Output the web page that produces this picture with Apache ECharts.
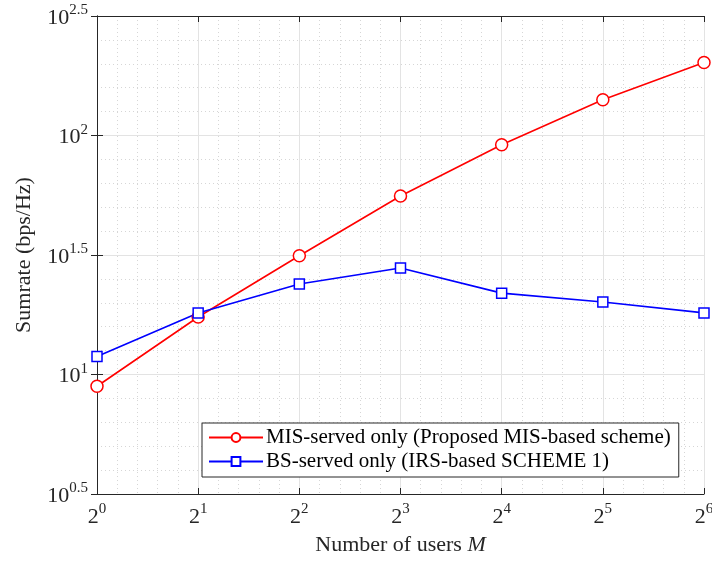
<!DOCTYPE html>
<html>
<head>
<meta charset="utf-8">
<script src="https://cdn.jsdelivr.net/npm/echarts@6/dist/echarts.min.js"></script>
<style>
  html, body { margin: 0; padding: 0; background: #fff; }
  #main { width: 712px; height: 561px; }
</style>
</head>
<body>
<div id="main"></div>
<script>
// number of users M (x axis, log2 scale)
var users = [1, 2, 4, 8, 16, 32, 64];
// sumrate in bps/Hz (y axis, log10 scale)
var misServed = [8.93, 17.4, 31.4, 55.8, 91.4, 141, 202];
var bsServed = [11.9, 18.1, 23.9, 27.9, 21.9, 20.1, 18.1];
var seriesNames = ['MIS-served only (Proposed MIS-based scheme)', 'BS-served only (IRS-based SCHEME 1)'];

var FONT = 'Liberation Serif';
var AXIS_COLOR = '#262626';

function pts(vals) {
    return users.map(function (m, i) {
        return [Math.log2(m), Math.log10(vals[i])];
    });
}

function supLabel(base) {
    return function (v) {
        var e = Math.round(v * 10) / 10;
        return '{b|' + base + '}{s|' + e + '}';
    };
}

var labelRich = {
    b: { fontFamily: FONT, fontSize: 22, color: '#262626', lineHeight: 26, verticalAlign: 'bottom' },
    s: { fontFamily: FONT, fontSize: 15, color: '#262626', lineHeight: 15, verticalAlign: 'top' }
};

var myChart = echarts.init(document.getElementById('main'), null, { renderer: 'canvas' });

var gridLine = { show: true, lineStyle: { color: '#e3e3e3', width: 1 } };
var minorLine = { show: true, lineStyle: { color: '#d6d6d6', width: 1, type: [1, 3] } };

var option = {
    backgroundColor: '#fff',
    animation: false,
    grid: { left: 97, right: 8, top: 16, bottom: 67, outerBoundsMode: 'none' },
    xAxis: [{
        type: 'value',
        min: 0, max: 6, interval: 1,
        name: '{n|Number of users }{i|M}',
        nameLocation: 'middle',
        nameGap: 40,
        nameTextStyle: {
            rich: {
                n: { fontFamily: FONT, fontSize: 22, color: '#262626' },
                i: { fontFamily: FONT, fontSize: 22, color: '#262626', fontStyle: 'italic' }
            }
        },
        axisLine: { show: true, lineStyle: { color: AXIS_COLOR, width: 1 } },
        axisTick: { show: true, inside: true, length: 6, lineStyle: { color: AXIS_COLOR } },
        axisLabel: { formatter: supLabel('2'), rich: labelRich, margin: 8 },
        splitLine: gridLine,
        minorTick: { show: false, splitNumber: 5 },
        minorSplitLine: minorLine
    }, {
        type: 'value',
        position: 'top',
        min: 0, max: 6, interval: 1,
        axisLine: { show: true, lineStyle: { color: AXIS_COLOR, width: 1 } },
        axisTick: { show: true, inside: true, length: 6, lineStyle: { color: AXIS_COLOR } },
        axisLabel: { show: false },
        splitLine: { show: false }
    }],
    yAxis: [{
        type: 'value',
        min: 0.5, max: 2.5, interval: 0.5,
        name: 'Sumrate (bps/Hz)',
        nameLocation: 'middle',
        nameGap: 62,
        nameTextStyle: { fontFamily: FONT, fontSize: 22, color: '#262626' },
        axisLine: { show: true, lineStyle: { color: AXIS_COLOR, width: 1 } },
        axisTick: { show: true, inside: true, length: 6, lineStyle: { color: AXIS_COLOR } },
        axisLabel: { formatter: supLabel('10'), rich: labelRich, margin: 9 },
        splitLine: gridLine,
        minorTick: { show: false, splitNumber: 5 },
        minorSplitLine: minorLine
    }, {
        type: 'value',
        position: 'right',
        min: 0.5, max: 2.5, interval: 0.5,
        axisLine: { show: true, lineStyle: { color: AXIS_COLOR, width: 1 } },
        axisTick: { show: true, inside: true, length: 6, lineStyle: { color: AXIS_COLOR } },
        axisLabel: { show: false },
        splitLine: { show: false }
    }],
    legend: {
        orient: 'vertical',
        left: 202,
        top: 423,
        padding: [4, 8, 5, 6],
        itemGap: 3,
        itemWidth: 54,
        itemHeight: 11,
        backgroundColor: '#fff',
        borderColor: AXIS_COLOR,
        borderWidth: 1,
        borderRadius: 0,
        textStyle: { fontFamily: FONT, fontSize: 21, color: '#000', padding: [0, 0, 0, -2] },
        data: seriesNames
    },
    series: [{
        name: seriesNames[0],
        type: 'line',
        data: pts(misServed),
        symbol: 'circle',
        symbolSize: 12,
        itemStyle: { color: '#fff', borderColor: '#ff0000', borderWidth: 1.5 },
        lineStyle: { color: '#ff0000', width: 1.6 },
        z: 3
    }, {
        name: seriesNames[1],
        type: 'line',
        data: pts(bsServed),
        symbol: 'rect',
        symbolSize: 10,
        itemStyle: { color: '#fff', borderColor: '#0000ff', borderWidth: 1.5 },
        lineStyle: { color: '#0000ff', width: 1.6 },
        z: 3
    }]
};

myChart.setOption(option);
</script>
</body>
</html>
